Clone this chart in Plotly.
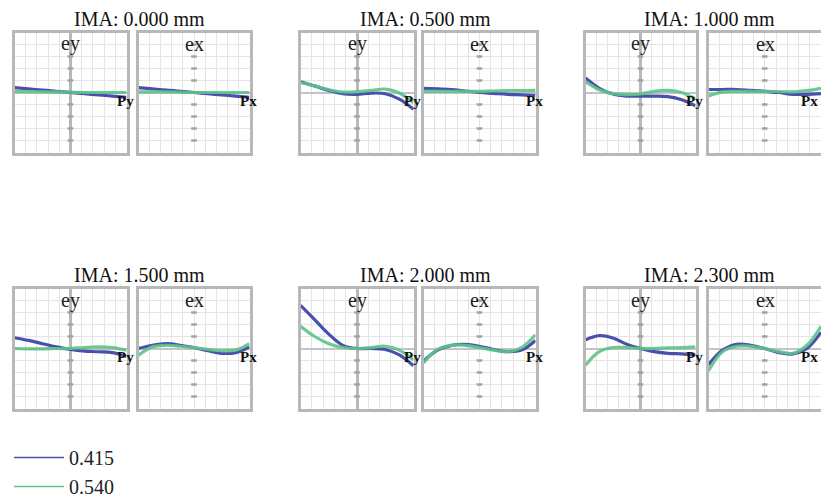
import plotly.graph_objects as go

# ---------------- data ----------------
pupil = [-1.0, -0.75, -0.5, -0.25, 0.0, 0.25, 0.5, 0.75, 1.0]
fields = ["IMA: 0.000 mm", "IMA: 0.500 mm", "IMA: 1.000 mm",
          "IMA: 1.500 mm", "IMA: 2.000 mm", "IMA: 2.300 mm"]
wavelengths = ["0.415", "0.540"]
fan_labels = ["ey", "ex"]
pupil_labels = ["Py", "Px"]
axis_marks = [-0.8, -0.6, -0.4, -0.2, 0.2, 0.4, 0.6, 0.8]

# tangential fan (ey) per field, wavelength 0.415
ey_415 = [
    [0.08, 0.06, 0.04, 0.02, 0.0, -0.02, -0.04, -0.06, -0.08],
    [0.18, 0.11, 0.035, -0.02, -0.03, -0.01, -0.02, -0.11, -0.28],
    [0.24, 0.07, -0.025, -0.06, -0.06, -0.06, -0.07, -0.12, -0.22],
    [0.18, 0.135, 0.08, 0.027, -0.016, -0.043, -0.054, -0.07, -0.135],
    [0.72, 0.48, 0.24, 0.053, 0.0, 0.0, -0.016, -0.107, -0.29],
    [0.145, 0.214, 0.176, 0.07, 0.0, -0.053, -0.08, -0.09, -0.107],
]
# tangential fan (ey), wavelength 0.540
ey_540 = [
    [0.02, 0.015, 0.01, 0.01, 0.005, 0.0, 0.0, 0.0, 0.0],
    [0.166, 0.11, 0.046, 0.008, 0.014, 0.035, 0.057, -0.008, -0.17],
    [0.18, 0.046, -0.02, -0.035, -0.025, 0.02, 0.035, 0.0, -0.11],
    [0.0, -0.005, -0.005, 0.0, 0.0, 0.016, 0.027, 0.016, -0.027],
    [0.37, 0.2, 0.08, 0.016, 0.0, 0.016, 0.037, -0.027, -0.19],
    [-0.28, -0.053, 0.016, 0.016, 0.0, 0.0, 0.01, 0.016, 0.027],
]
# sagittal fan (ex), wavelength 0.415
ex_415 = [
    [0.08, 0.06, 0.04, 0.02, 0.0, -0.02, -0.04, -0.06, -0.08],
    [0.07, 0.06, 0.05, 0.025, 0.0, -0.015, -0.03, -0.04, -0.05],
    [0.05, 0.05, 0.05, 0.035, 0.02, 0.0, -0.03, -0.03, -0.02],
    [0.0, 0.054, 0.08, 0.054, 0.016, -0.038, -0.08, -0.07, 0.027],
    [-0.21, -0.027, 0.053, 0.07, 0.037, -0.016, -0.053, -0.027, 0.134],
    [-0.27, -0.027, 0.07, 0.053, 0.0, -0.07, -0.09, 0.0, 0.27],
]
# sagittal fan (ex), wavelength 0.540
ex_540 = [
    [0.01, 0.01, 0.01, 0.005, 0.0, 0.0, 0.0, 0.0, 0.0],
    [0.02, 0.02, 0.02, 0.02, 0.02, 0.025, 0.03, 0.03, 0.035],
    [-0.06, 0.01, 0.02, 0.02, 0.02, 0.015, 0.01, 0.03, 0.07],
    [-0.11, 0.027, 0.054, 0.038, 0.016, -0.016, -0.038, -0.027, 0.08],
    [-0.24, -0.016, 0.053, 0.053, 0.016, -0.027, -0.053, 0.016, 0.23],
    [-0.37, -0.053, 0.037, 0.037, 0.0, -0.053, -0.08, 0.053, 0.37],
]

# ---------------- styling / layout ----------------
W, H = 821, 499
BLUE = "#4a4fb0"
GREEN = "#5cc489"
SERIF = "Liberation Serif, Times New Roman, serif"

cols = [((13, 128), (137, 251)), ((299, 415), (422, 537)), ((584, 697), (707, 823))]
rows = [(31, 154), (287, 410)]


def xdom(a, b):
    return [max(0, (a + 1.5) / W), min(1, (b - 1.5) / W)]


def ydom(a, b):
    return [1 - (b - 1.5) / H, 1 - (a + 1.5) / H]


fig = go.Figure()
layout = {}
annotations = []

for f in range(6):
    r, c = divmod(f, 3)
    ry = rows[r]
    fans = [(ey_415[f], ey_540[f]), (ex_415[f], ex_540[f])]
    for s in range(2):
        idx = f * 2 + s + 1
        xa = "x" if idx == 1 else f"x{idx}"
        ya = "y" if idx == 1 else f"y{idx}"
        xk = "xaxis" if idx == 1 else f"xaxis{idx}"
        yk = "yaxis" if idx == 1 else f"yaxis{idx}"
        bx = cols[c][s]
        common = dict(range=[-1, 1], tick0=-1, dtick=0.2, showticklabels=False,
                      ticks="", showgrid=True, gridcolor="#e4e4e4", gridwidth=1,
                      showline=True, mirror=True, linecolor="#b8b8b8", linewidth=3,
                      fixedrange=True)
        layout[xk] = dict(common, domain=xdom(*bx), anchor=ya,
                          zeroline=(s == 0), zerolinecolor="#b8b8b8", zerolinewidth=3)
        layout[yk] = dict(common, domain=ydom(*ry), anchor=xa,
                          zeroline=True, zerolinecolor="#c4c4c4", zerolinewidth=2)

        # tick marks along the vertical centre
        fig.add_trace(go.Scatter(x=[0] * len(axis_marks), y=axis_marks, xaxis=xa, yaxis=ya,
                                 mode="markers", showlegend=False, hoverinfo="skip",
                                 marker=dict(symbol="line-ew", size=4,
                                             line=dict(width=2.5, color="#a3a3a3"))))
        b, g = fans[s]
        fig.add_trace(go.Scatter(x=pupil, y=b, xaxis=xa, yaxis=ya, mode="lines",
                                 line=dict(color=BLUE, width=3.2, shape="spline", smoothing=1.0),
                                 showlegend=False, name=wavelengths[0]))
        fig.add_trace(go.Scatter(x=pupil, y=g, xaxis=xa, yaxis=ya, mode="lines",
                                 line=dict(color=GREEN, width=3.2, shape="spline", smoothing=1.0),
                                 opacity=0.9, showlegend=False, name=wavelengths[1]))

        # fan label (ey / ex)
        annotations.append(dict(x=(bx[0] + bx[1]) / 2 / W, y=1 - ((ry[0] + 13) / H),
                                xref="paper", yref="paper", text=fan_labels[s],
                                showarrow=False, xanchor="center", yanchor="middle",
                                font=dict(family=SERIF, size=20, color="#222")))
        # pupil label (Py / Px)
        px = min(bx[1] - 3, 809)
        annotations.append(dict(x=px / W, y=1 - ((ry[0] + ry[1]) / 2 + 8) / H,
                                xref="paper", yref="paper", text="<b>" + pupil_labels[s] + "</b>",
                                showarrow=False, xanchor="center", yanchor="middle",
                                font=dict(family=SERIF, size=15, color="#111")))

    # field title
    cx = (cols[c][0][0] + min(cols[c][1][1], 821)) / 2 + 7
    annotations.append(dict(x=cx / W, y=1 - (ry[0] - 12) / H, xref="paper", yref="paper",
                            text=fields[f], showarrow=False, xanchor="center", yanchor="middle",
                            font=dict(family=SERIF, size=20, color="#111")))

# legend entries
for wl, col in zip(wavelengths, [BLUE, GREEN]):
    fig.add_trace(go.Scatter(x=[None], y=[None], mode="lines", name=wl,
                             line=dict(color=col, width=1.5), showlegend=True))

fig.update_layout(
    width=W, height=H, margin=dict(l=0, r=0, t=0, b=0, autoexpand=False),
    paper_bgcolor="white", plot_bgcolor="white",
    annotations=annotations,
    showlegend=True,
    legend=dict(x=9 / W, y=1 - 438 / H, xanchor="left", yanchor="top",
                font=dict(family=SERIF, size=20, color="#222"),
                itemwidth=50, bgcolor="rgba(0,0,0,0)", tracegroupgap=0),
    **layout,
)

fig.write_html("out.html")
